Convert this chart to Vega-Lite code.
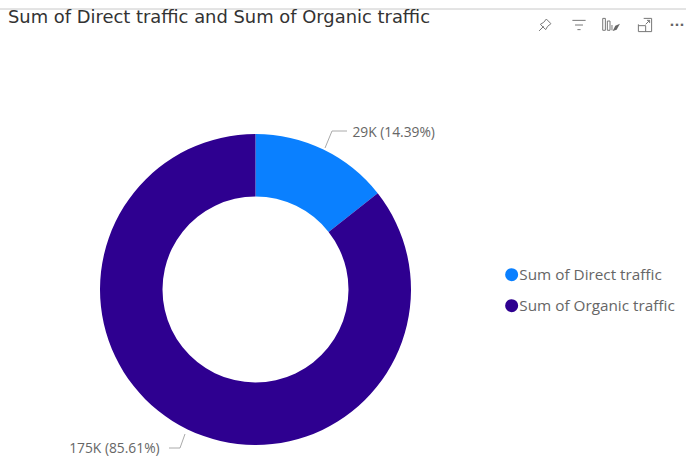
{
  "$schema": "https://vega.github.io/schema/vega-lite/v6.json",
  "autosize": {"type": "none"},
  "width": 311,
  "height": 311,
  "padding": {"left": 100, "top": 134, "right": 275, "bottom": 13},
  "background": "white",
  "view": {"stroke": null},
  "title": {
    "text": "Sum of Direct traffic and Sum of Organic traffic",
    "anchor": "start",
    "frame": "group",
    "dx": -92,
    "offset": -18,
    "font": "DejaVu Sans",
    "fontSize": 17.9,
    "fontWeight": "normal",
    "color": "#333333"
  },
  "data": {
    "values": [
      {"series": "Sum of Direct traffic", "value": 29400, "label": "29K (14.39%)"},
      {"series": "Sum of Organic traffic", "value": 174900, "label": "175K (85.61%)"}
    ]
  },
  "layer": [
    {
      "mark": {"type": "arc", "innerRadius": 93, "outerRadius": 155.5},
      "encoding": {
        "theta": {"field": "value", "type": "quantitative", "stack": true},
        "color": {
          "field": "series",
          "type": "nominal",
          "scale": {"domain": ["Sum of Direct traffic", "Sum of Organic traffic"], "range": ["#0A80FF", "#2E0090"]},
          "legend": {
            "title": null,
            "orient": "none",
            "legendX": 404,
            "legendY": 133,
            "symbolType": "circle",
            "symbolSize": 170,
            "symbolStrokeWidth": 0,
            "labelFont": "Open Sans",
            "labelFontSize": 15.3,
            "labelColor": "#666666",
            "labelOffset": 0,
            "rowPadding": 15,
            "labelLimit": 200
          }
        }
      }
    },
    {
      "mark": {"type": "text", "align": "left", "baseline": "middle", "dx": 20, "dy": 2, "font": "Open Sans", "fontSize": 13.8, "color": "#666666"},
      "encoding": {
        "theta": {"field": "value", "type": "quantitative", "stack": true},
        "order": {"field": "value", "type": "quantitative", "sort": "ascending"},
        "radius": {"value": 176},
        "text": {"condition": {"test": "datum.series === 'Sum of Direct traffic'", "field": "label"}, "value": ""}
      }
    },
    {
      "mark": {"type": "text", "align": "right", "baseline": "middle", "dx": -19, "dy": 1, "font": "Open Sans", "fontSize": 13.8, "color": "#666666"},
      "encoding": {
        "theta": {"field": "value", "type": "quantitative", "stack": true},
        "order": {"field": "value", "type": "quantitative", "sort": "ascending"},
        "radius": {"value": 176},
        "text": {"condition": {"test": "datum.series === 'Sum of Organic traffic'", "field": "label"}, "value": ""}
      }
    },
    {
      "description": "Leader line and header furniture, one stroke per row",
      "data": {"values": [{"part": "leader"}]},
      "layer": [
        {"mark": {"type": "rule", "stroke": "#aaaaaa"}, "encoding": {"x": {"value": 225}, "y": {"value": 14}, "x2": {"value": 232}, "y2": {"value": -3}}},
        {"mark": {"type": "rule", "stroke": "#aaaaaa"}, "encoding": {"x": {"value": 232}, "y": {"value": -3}, "x2": {"value": 247}, "y2": {"value": -3}}},
        {"mark": {"type": "rule", "stroke": "#aaaaaa"}, "encoding": {"x": {"value": 85}, "y": {"value": 300}, "x2": {"value": 80}, "y2": {"value": 314}}},
        {"mark": {"type": "rule", "stroke": "#aaaaaa"}, "encoding": {"x": {"value": 80}, "y": {"value": 314}, "x2": {"value": 69}, "y2": {"value": 314}}},
        {"mark": {"type": "rule", "stroke": "#c8c8c8"}, "encoding": {"x": {"value": -100}, "y": {"value": -125}, "x2": {"value": 586}, "y2": {"value": -125}}},
        {"mark": {"type": "point", "filled": false, "stroke": "#777777", "strokeWidth": 1, "size": 700, "opacity": 1, "shape": "M-.1,.1L-.45,.45M-.35,-.05L.05,.35L.2,.1L.45,-.1L.1,-.45L-.1,-.2Z"}, "encoding": {"x": {"value": 445}, "y": {"value": -109}}},
        {"mark": {"type": "point", "filled": false, "stroke": "#777777", "strokeWidth": 1, "size": 700, "opacity": 1, "shape": "M-.5,-.35H.5M-.3,0H.3M-.12,.35H.12"}, "encoding": {"x": {"value": 479}, "y": {"value": -109}}},
        {"mark": {"type": "point", "filled": false, "stroke": "#777777", "strokeWidth": 1, "size": 700, "opacity": 1, "shape": "M-.55,.4V-.5H-.35V.4ZM-.2,.4V-.3H0V.4ZM.15,.4V.0"}, "encoding": {"x": {"value": 510}, "y": {"value": -109}}},
        {"mark": {"type": "point", "filled": true, "fill": "#666666", "stroke": null, "size": 700, "opacity": 1, "shape": "M.05,.45L.25,.05L.6,-.1L.35,.35Z"}, "encoding": {"x": {"value": 512}, "y": {"value": -109}}},
        {"mark": {"type": "point", "filled": false, "stroke": "#777777", "strokeWidth": 1, "size": 700, "opacity": 1, "shape": "M-.1,-.5H.5V.5H-.5V-.05M-.5,.05H.05V.5M.05,-.05L.35,-.35M.15,-.35H.35V-.15"}, "encoding": {"x": {"value": 545}, "y": {"value": -109}}},
        {"mark": {"type": "text", "text": "···", "font": "DejaVu Sans", "fontSize": 13, "fontWeight": "bold", "color": "#666666"}, "encoding": {"x": {"value": 577}, "y": {"value": -109}}}
      ]
    }
  ]
}
